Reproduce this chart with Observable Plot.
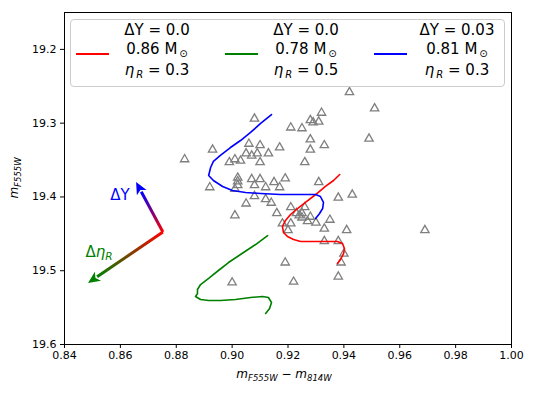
<!DOCTYPE html>
<html><head><meta charset="utf-8">
<script src="https://cdn.jsdelivr.net/npm/d3@7"></script>
<script src="https://cdn.jsdelivr.net/npm/@observablehq/plot@0.6"></script>
<style>
body{margin:0;background:#fff;font-family:"DejaVu Sans",sans-serif;}
#wrap{position:relative;width:533px;height:393px;overflow:hidden;}
#legend{position:absolute;left:70px;top:19px;width:435px;height:68px;border:1px solid #cccccc;border-radius:4px;background:rgba(255,255,255,0.8);box-sizing:border-box;}
.lt{position:absolute;width:130px;text-align:center;font-size:15px;line-height:18px;color:#000;white-space:nowrap;}
.ls{position:absolute;height:2px;width:33px;}
.sub{font-size:10px;position:relative;top:3px;margin-left:2px;}
</style>
</head><body>
<div id="wrap"></div>
<script>
// observed stars (colour, magnitude)
const obsX = [0.908,0.921,0.893,0.883,0.906,0.910,0.917,0.905,0.907,0.909,0.913,0.899,0.901,0.903,0.910,0.902,0.902,0.907,0.910,0.915,0.919,0.892,0.901,0.902,0.905,0.901,0.908,0.912,0.914,0.916,0.917,0.942,0.951,0.932,0.928,0.929,0.931,0.925,0.928,0.933,0.949,0.928,0.926,0.931,0.938,0.943,0.921,0.926,0.923,0.924,0.925,0.925,0.927,0.928,0.930,0.935,0.918,0.921,0.920,0.933,0.941,0.933,0.938,0.940,0.939,0.919,0.938,0.922,0.900,0.969,0.912,0.908];
const obsY = [19.294,19.306,19.336,19.349,19.328,19.330,19.333,19.341,19.344,19.341,19.341,19.353,19.349,19.351,19.353,19.374,19.379,19.376,19.376,19.380,19.375,19.387,19.389,19.384,19.409,19.425,19.399,19.403,19.408,19.422,19.387,19.258,19.280,19.286,19.296,19.299,19.298,19.307,19.322,19.330,19.321,19.336,19.353,19.380,19.401,19.397,19.414,19.414,19.422,19.425,19.428,19.422,19.433,19.427,19.435,19.431,19.436,19.436,19.445,19.443,19.445,19.460,19.460,19.477,19.489,19.489,19.508,19.515,19.516,19.445,19.387,19.384];

// model tracks
const redX = [0.9385,0.9363,0.9334,0.9299,0.9266,0.9234,0.9209,0.9191,0.9180,0.9184,0.9198,0.9220,0.9245,0.9281,0.9334,0.9377,0.9395,0.9402,0.9399,0.9388,0.9377];
const redY = [19.3696,19.3777,19.3858,19.3967,19.4062,19.4157,19.4238,19.4319,19.4401,19.4482,19.4536,19.4577,19.4604,19.4604,19.4604,19.4604,19.4631,19.4699,19.4767,19.4848,19.4902];
const greenX = [0.9127,0.9084,0.9030,0.8987,0.8951,0.8916,0.8887,0.8876,0.8876,0.8869,0.8887,0.8916,0.8958,0.9012,0.9066,0.9109,0.9130,0.9141,0.9134,0.9120];
const greenY = [19.4523,19.4645,19.4780,19.4889,19.4997,19.5105,19.5187,19.5254,19.5309,19.5349,19.5390,19.5404,19.5404,19.5390,19.5363,19.5349,19.5363,19.5431,19.5512,19.5580];
const blueX = [0.9141,0.9102,0.9066,0.9030,0.8994,0.8958,0.8933,0.8923,0.8916,0.8933,0.8966,0.9001,0.9048,0.9102,0.9173,0.9245,0.9299,0.9316,0.9327,0.9324,0.9313,0.9299];
const blueY = [19.2883,19.3004,19.3126,19.3235,19.3330,19.3438,19.3519,19.3601,19.3709,19.3777,19.3858,19.3913,19.3940,19.3953,19.3967,19.3967,19.3967,19.3994,19.4075,19.4157,19.4224,19.4292];

// legend
const legDY = ["0.0","0.0","0.03"];
const legMass = ["0.86","0.78","0.81"];
const legEta = ["0.3","0.5","0.3"];
const legColors = ["#ff0000","#008000","#0000ff"];

// direction arrows
const arrowBase = [0.8754, 19.4482];
const arrowTipX = [0.8658, 0.8486];
const arrowTipY = [19.3804, 19.5173];
const arrowColors = ["#0000ff", "#008000"];
const arrowLabelX = [0.8600, 0.8525];
const arrowLabelY = [19.398, 19.4753];

const xTicks = [0.84,0.86,0.88,0.90,0.92,0.94,0.96,0.98,1.00];
const yTicks = [19.2,19.3,19.4,19.5,19.6];

const stars = obsX.map((x,i)=>({x, y: obsY[i]}));
const track = (xs, ys) => xs.map((x,i)=>({x, y: ys[i]}));

const ns = "http://www.w3.org/2000/svg";
function el(name, attrs){const e=document.createElementNS(ns,name);for(const k in attrs)e.setAttribute(k,attrs[k]);return e;}

function arrows(index, scales){
  const {x, y} = scales;
  const g = el("g", {});
  const defs = el("defs", {});
  g.appendChild(defs);
  const x0 = x(arrowBase[0]), y0 = y(arrowBase[1]);
  arrowTipX.forEach((tx, i) => {
    const x1 = x(tx), y1 = y(arrowTipY[i]);
    const dx = x1-x0, dy = y1-y0, L = Math.hypot(dx,dy), ux = dx/L, uy = dy/L;
    const hl = 12, hw = 5.5;
    const bx = x1-ux*hl, by = y1-uy*hl;
    const id = "grad"+i;
    const lg = el("linearGradient", {id, gradientUnits:"userSpaceOnUse", x1:x0, y1:y0, x2:bx, y2:by});
    lg.appendChild(el("stop",{offset:"0","stop-color":"#ff0000"}));
    lg.appendChild(el("stop",{offset:"1","stop-color":arrowColors[i]}));
    defs.appendChild(lg);
    g.appendChild(el("line",{x1:x0,y1:y0,x2:bx+ux*1,y2:by+uy*1,stroke:`url(#${id})`,"stroke-width":3,"stroke-linecap":"butt"}));
    g.appendChild(el("polygon",{points:`${x1},${y1} ${bx-uy*hw},${by+ux*hw} ${bx+ux*3},${by+uy*3} ${bx+uy*hw},${by-ux*hw}`,fill:arrowColors[i]}));
  });
  const t1 = el("text",{x:x(arrowLabelX[0]),y:y(arrowLabelY[0]),"text-anchor":"middle","dominant-baseline":"central",fill:arrowColors[0],"font-size":15});
  t1.textContent = "ΔY";
  g.appendChild(t1);
  const t2 = el("text",{x:x(arrowLabelX[1]),y:y(arrowLabelY[1]),"text-anchor":"middle","dominant-baseline":"central",fill:arrowColors[1],"font-size":15});
  const a = el("tspan",{}); a.textContent="Δ";
  const b = el("tspan",{"font-style":"italic"}); b.textContent="η";
  const c = el("tspan",{"font-style":"italic","font-size":10.5,dy:4}); c.textContent="R";
  t2.append(a,b,c);
  g.appendChild(t2);
  return g;
}

const chart = Plot.plot({
  width: 533, height: 393,
  marginLeft: 64, marginRight: 22, marginTop: 12, marginBottom: 49,
  style: {fontFamily: "DejaVu Sans", fontSize: "11px", color: "black", background: "white", overflow: "visible"},
  x: {domain: [0.84, 1.00], ticks: xTicks, tickFormat: d3.format(".2f"), label: null, tickSize: 4, tickPadding: 3},
  y: {domain: [19.15, 19.6], reverse: true, ticks: yTicks, tickFormat: d3.format(".1f"), label: null, tickSize: 4, tickPadding: 4},
  marks: [
    Plot.dot(stars, {x: "x", y: "y", symbol: "triangle", r: 3.1, stroke: "#7f7f7f", strokeWidth: 1.3, fill: "none"}),
    Plot.line(track(redX, redY), {x: "x", y: "y", stroke: legColors[0], strokeWidth: 1.6, strokeLinejoin: "round"}),
    Plot.line(track(greenX, greenY), {x: "x", y: "y", stroke: legColors[1], strokeWidth: 1.6, strokeLinejoin: "round"}),
    Plot.line(track(blueX, blueY), {x: "x", y: "y", stroke: legColors[2], strokeWidth: 1.6, strokeLinejoin: "round"}),
    arrows,
    Plot.frame({stroke: "black", strokeWidth: 1})
  ]
});

const svg = d3.select(chart);
const xl = svg.append("text").attr("x", 284).attr("y", 378).attr("text-anchor","middle").attr("font-size",12).attr("fill","black");
xl.append("tspan").attr("font-style","italic").text("m");
xl.append("tspan").attr("font-style","italic").attr("font-size",8.5).attr("dy",3).text("F555W");
xl.append("tspan").attr("dy",-3).text(" − ");
xl.append("tspan").attr("font-style","italic").text("m");
xl.append("tspan").attr("font-style","italic").attr("font-size",8.5).attr("dy",3).text("814W");
const yl = svg.append("text").attr("transform","translate(18,178) rotate(-90)").attr("text-anchor","middle").attr("font-size",12).attr("fill","black");
yl.append("tspan").attr("font-style","italic").text("m");
yl.append("tspan").attr("font-style","italic").attr("font-size",8.5).attr("dy",3).text("F555W");

const wrap = document.getElementById("wrap");
wrap.appendChild(chart);

const leg = document.createElement("div");
leg.id = "legend";
wrap.appendChild(leg);
const lineLeft = [75, 224, 373];
const textCx = [156, 305, 456];
legColors.forEach((c, i) => {
  const s = document.createElement("div");
  s.className = "ls";
  s.style.left = (lineLeft[i]-70) + "px";
  s.style.top = (53-19-1) + "px";
  s.style.background = c;
  leg.appendChild(s);
  const rows = [
    `ΔY = ${legDY[i]}`,
    `${legMass[i]} M<span class="sub">⊙</span>`,
    `<i>η</i><span class="sub"><i>R</i></span> = ${legEta[i]}`
  ];
  const cy = [30, 49, 70];
  rows.forEach((r, j) => {
    const t = document.createElement("div");
    t.className = "lt";
    t.style.left = (textCx[i]-70-65) + "px";
    t.style.top = (cy[j]-19-1-9) + "px";
    t.innerHTML = r;
    leg.appendChild(t);
  });
});
</script>
</body></html>
